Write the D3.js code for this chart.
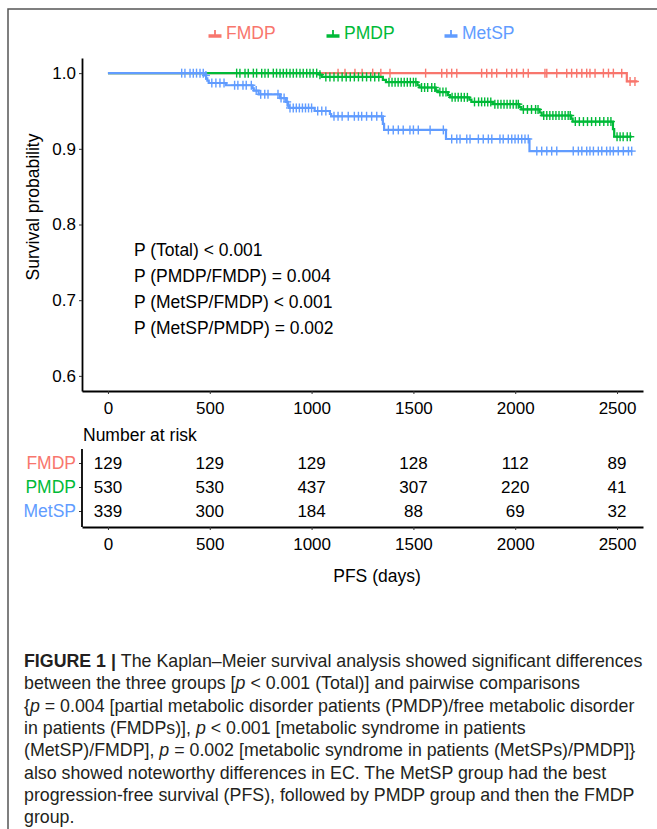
<!DOCTYPE html>
<html><head><meta charset="utf-8">
<script src="https://cdn.jsdelivr.net/npm/d3@7"></script>
<style>
body{margin:0;background:#fff}
svg{display:block}
text{font-family:"Liberation Sans",Arial,Helvetica,sans-serif}
</style>
</head><body><svg id="c" width="657" height="829"></svg>
<script>
// ---------------- data ----------------
const groups = ["FMDP", "PMDP", "MetSP"];
const groupColors = ["#F8766D", "#00BA38", "#619CFF"];
const xTicks = [0, 500, 1000, 1500, 2000, 2500];
const yTicks = [0.6, 0.7, 0.8, 0.9, 1.0];

const fmdpSteps = [[0,1],[2548,0.989]];
const fmdpEnd = 2600;
const fmdpCensor = [1130,1164,1213,1248,1300,1340,1385,1560,1639,1664,1688,1713,1835,1860,1885,1909,1958,1983,2007,2040,2064,2146,2155,2204,2253,2277,2302,2327,2351,2367,2392,2433,2458,2482,2523,2564,2588];

const pmdpSteps = [[0,1],[1040,0.998],[1050,0.995],[1350,0.991],[1365,0.988],[1520,0.984],[1530,0.981],[1610,0.977],[1620,0.975],[1670,0.971],[1680,0.968],[1775,0.965],[1785,0.962],[1890,0.959],[2020,0.955],[2030,0.952],[2120,0.948],[2130,0.944],[2275,0.940],[2282,0.936],[2480,0.926],[2486,0.916]];
const pmdpEnd = 2572;
const pmdpCensor = [632,648,673,689,714,730,755,771,787,812,828,845,861,877,894,910,926,943,959,976,992,1008,1025,1041,1070,1090,1110,1130,1150,1170,1190,1210,1230,1250,1270,1290,1310,1330,1380,1395,1410,1425,1440,1455,1470,1485,1500,1512,1540,1555,1570,1590,1605,1630,1645,1660,1690,1705,1720,1735,1750,1765,1800,1820,1835,1850,1865,1880,1900,1915,1930,1945,1960,1975,1990,2005,2015,2040,2060,2080,2100,2112,2140,2155,2170,2185,2200,2215,2230,2245,2260,2270,2295,2315,2335,2355,2375,2395,2415,2435,2455,2470,2500,2515,2530,2550,2565];

const metspSteps = [[0,1],[476,0.997],[482,0.993],[488,0.990],[495,0.987],[580,0.984],[710,0.980],[716,0.977],[740,0.972],[845,0.967],[875,0.962],[884,0.957],[890,0.954],[1015,0.950],[1090,0.946],[1096,0.943],[1350,0.933],[1356,0.925],[1660,0.913],[2070,0.897]];
const metspEnd = 2572;
const metspCensor = [362,378,403,419,435,452,468,481,510,530,550,570,622,638,663,679,704,728,750,770,786,835,850,865,880,894,910,925,940,955,970,985,1000,1030,1050,1070,1110,1130,1150,1180,1210,1230,1246,1270,1295,1320,1344,1377,1401,1426,1450,1483,1500,1524,1582,1647,1688,1713,1729,1762,1778,1819,1843,1868,1885,1925,1941,1966,1983,1999,2015,2032,2048,2064,2106,2130,2155,2179,2204,2285,2310,2327,2351,2367,2384,2408,2425,2449,2466,2482,2506,2531,2556,2572];

const riskFMDP = [129,129,129,128,112,89];
const riskPMDP = [530,530,437,307,220,41];
const riskMetSP = [339,300,184,88,69,32];

const pTexts = ["P (Total) < 0.001","P (PMDP/FMDP) = 0.004","P (MetSP/FMDP) < 0.001","P (MetSP/PMDP) = 0.002"];

const captionLines = [
  [["b","FIGURE 1 | "],["n","The Kaplan–Meier survival analysis showed significant differences"]],
  [["n","between the three groups ["],["i","p"],["n"," < 0.001 (Total)] and pairwise comparisons"]],
  [["n","{"],["i","p"],["n"," = 0.004 [partial metabolic disorder patients (PMDP)/free metabolic disorder"]],
  [["n","in patients (FMDPs)], "],["i","p"],["n"," < 0.001 [metabolic syndrome in patients"]],
  [["n","(MetSP)/FMDP], "],["i","p"],["n"," = 0.002 [metabolic syndrome in patients (MetSPs)/PMDP]}"]],
  [["n","also showed noteworthy differences in EC. The MetSP group had the best"]],
  [["n","progression-free survival (PFS), followed by PMDP group and then the FMDP"]],
  [["n","group."]]
];
const captionMaxWidth = 628;

// ---------------- drawing ----------------
const series = [
  {name: groups[0], color: groupColors[0], steps: fmdpSteps, end: fmdpEnd, censor: fmdpCensor, risk: riskFMDP},
  {name: groups[1], color: groupColors[1], steps: pmdpSteps, end: pmdpEnd, censor: pmdpCensor, risk: riskPMDP},
  {name: groups[2], color: groupColors[2], steps: metspSteps, end: metspEnd, censor: metspCensor, risk: riskMetSP}
];

const svg = d3.select("#c");
const fontSize = 17;

// frame
svg.append("rect").attr("x", 8).attr("y", 9).attr("width", 720).attr("height", 900)
  .attr("fill", "none").attr("stroke", "#555").attr("stroke-width", 1.5);

const x = d3.scaleLinear().domain([-127.5, 2627.5]).range([82, 643]);
const y = d3.scaleLinear().domain([0.58, 1.02]).range([391, 58]);

function survAt(steps, t) {
  let s = steps[0][1];
  for (const st of steps) { if (st[0] <= t) s = st[1]; }
  return s;
}

// curves
const line = d3.line().x(d => x(d[0])).y(d => y(d[1])).curve(d3.curveStepAfter);
const plot = svg.append("g");
series.forEach(sr => {
  const pts = sr.steps.concat([[sr.end, sr.steps[sr.steps.length - 1][1]]]);
  plot.append("path").attr("d", line(pts)).attr("fill", "none")
    .attr("stroke", sr.color).attr("stroke-width", 2.2);
  const g = plot.append("g").attr("stroke", sr.color).attr("stroke-width", 1.4);
  sr.censor.forEach(t => {
    const cx = x(t), cy = y(survAt(sr.steps, t));
    g.append("line").attr("x1", cx - 4).attr("x2", cx + 4).attr("y1", cy).attr("y2", cy);
    g.append("line").attr("x1", cx).attr("x2", cx).attr("y1", cy - 4.5).attr("y2", cy + 4.5);
  });
});

// axes
function styleAxis(g) {
  g.select(".domain").attr("stroke", "#000").attr("stroke-width", 1.8);
  g.selectAll(".tick line").attr("stroke", "#333").attr("stroke-width", 1);
  g.selectAll(".tick text").attr("fill", "#000").attr("font-size", fontSize)
    .attr("font-family", '"Liberation Sans",Arial,sans-serif');
}
const yAxis = svg.append("g").attr("transform", "translate(82,0)")
  .call(d3.axisLeft(y).tickValues(yTicks).tickFormat(d3.format(".1f")).tickSize(3).tickSizeOuter(0).tickPadding(3));
styleAxis(yAxis);
const xAxis = svg.append("g").attr("transform", "translate(0,391)")
  .call(d3.axisBottom(x).tickValues(xTicks).tickFormat(d3.format("d")).tickSize(3).tickSizeOuter(0).tickPadding(8));
styleAxis(xAxis);

svg.append("text").attr("transform", "translate(39,207) rotate(-90)")
  .attr("text-anchor", "middle").attr("font-size", 17.5).text("Survival probability");

// p-values
pTexts.forEach((t, i) => {
  svg.append("text").attr("x", 134).attr("y", 255.5 + i * 26.2)
    .attr("font-size", 17.5).text(t);
});

// legend
const legX = [215, 333, 451];
series.forEach((sr, i) => {
  const lg = svg.append("g").attr("transform", `translate(${legX[i]},35)`);
  lg.append("line").attr("x1", -6.5).attr("x2", 6.5).attr("y1", 1).attr("y2", 1)
    .attr("stroke", sr.color).attr("stroke-width", 3.5);
  lg.append("line").attr("x1", 0).attr("x2", 0).attr("y1", -5).attr("y2", 1)
    .attr("stroke", sr.color).attr("stroke-width", 1.8);
  svg.append("text").attr("x", legX[i] + 11).attr("y", 33).attr("dy", "0.35em")
    .attr("font-size", 17.5).attr("fill", sr.color).text(sr.name);
});

// risk table
svg.append("text").attr("x", 83).attr("y", 441).attr("font-size", 17.5).text("Number at risk");
const yr = d3.scalePoint().domain(groups).range([463, 511]);
const rAxisY = svg.append("g").attr("transform", "translate(82,0)")
  .call(d3.axisLeft(yr).tickSize(3).tickSizeOuter(0).tickPadding(3));
rAxisY.select(".domain").remove();
rAxisY.selectAll(".tick line").attr("stroke", "#333");
rAxisY.selectAll(".tick text").attr("font-size", 17.5).attr("font-family", '"Liberation Sans",Arial,sans-serif')
  .attr("fill", (d, i) => groupColors[i]);
svg.append("line").attr("x1", 82).attr("x2", 82).attr("y1", 449).attr("y2", 527)
  .attr("stroke", "#000").attr("stroke-width", 1.8);
const rAxisX = svg.append("g").attr("transform", "translate(0,527)")
  .call(d3.axisBottom(x).tickValues(xTicks).tickFormat(d3.format("d")).tickSize(3).tickSizeOuter(0).tickPadding(8));
styleAxis(rAxisX);
series.forEach(sr => {
  svg.append("g").selectAll("text").data(sr.risk).join("text")
    .attr("x", (d, i) => x(xTicks[i])).attr("y", yr(sr.name)).attr("dy", "0.35em")
    .attr("text-anchor", "middle").attr("font-size", fontSize).text(d => d);
});
svg.append("text").attr("x", 377).attr("y", 582).attr("text-anchor", "middle")
  .attr("font-size", 17.5).text("PFS (days)");

// caption
captionLines.forEach((parts, i) => {
  const t = svg.append("text").attr("x", 24).attr("y", 667 + i * 22.3)
    .attr("font-size", 17.8).attr("fill", "#231f20");
  parts.forEach(p => {
    const ts = t.append("tspan").text(p[1]);
    if (p[0] === "b") ts.attr("font-weight", "bold");
    if (p[0] === "i") ts.attr("font-style", "italic");
  });
  const w = t.node().getComputedTextLength();
  if (w > captionMaxWidth) {
    t.attr("textLength", captionMaxWidth).attr("lengthAdjust", "spacingAndGlyphs");
  }
});
</script>
</body></html>
